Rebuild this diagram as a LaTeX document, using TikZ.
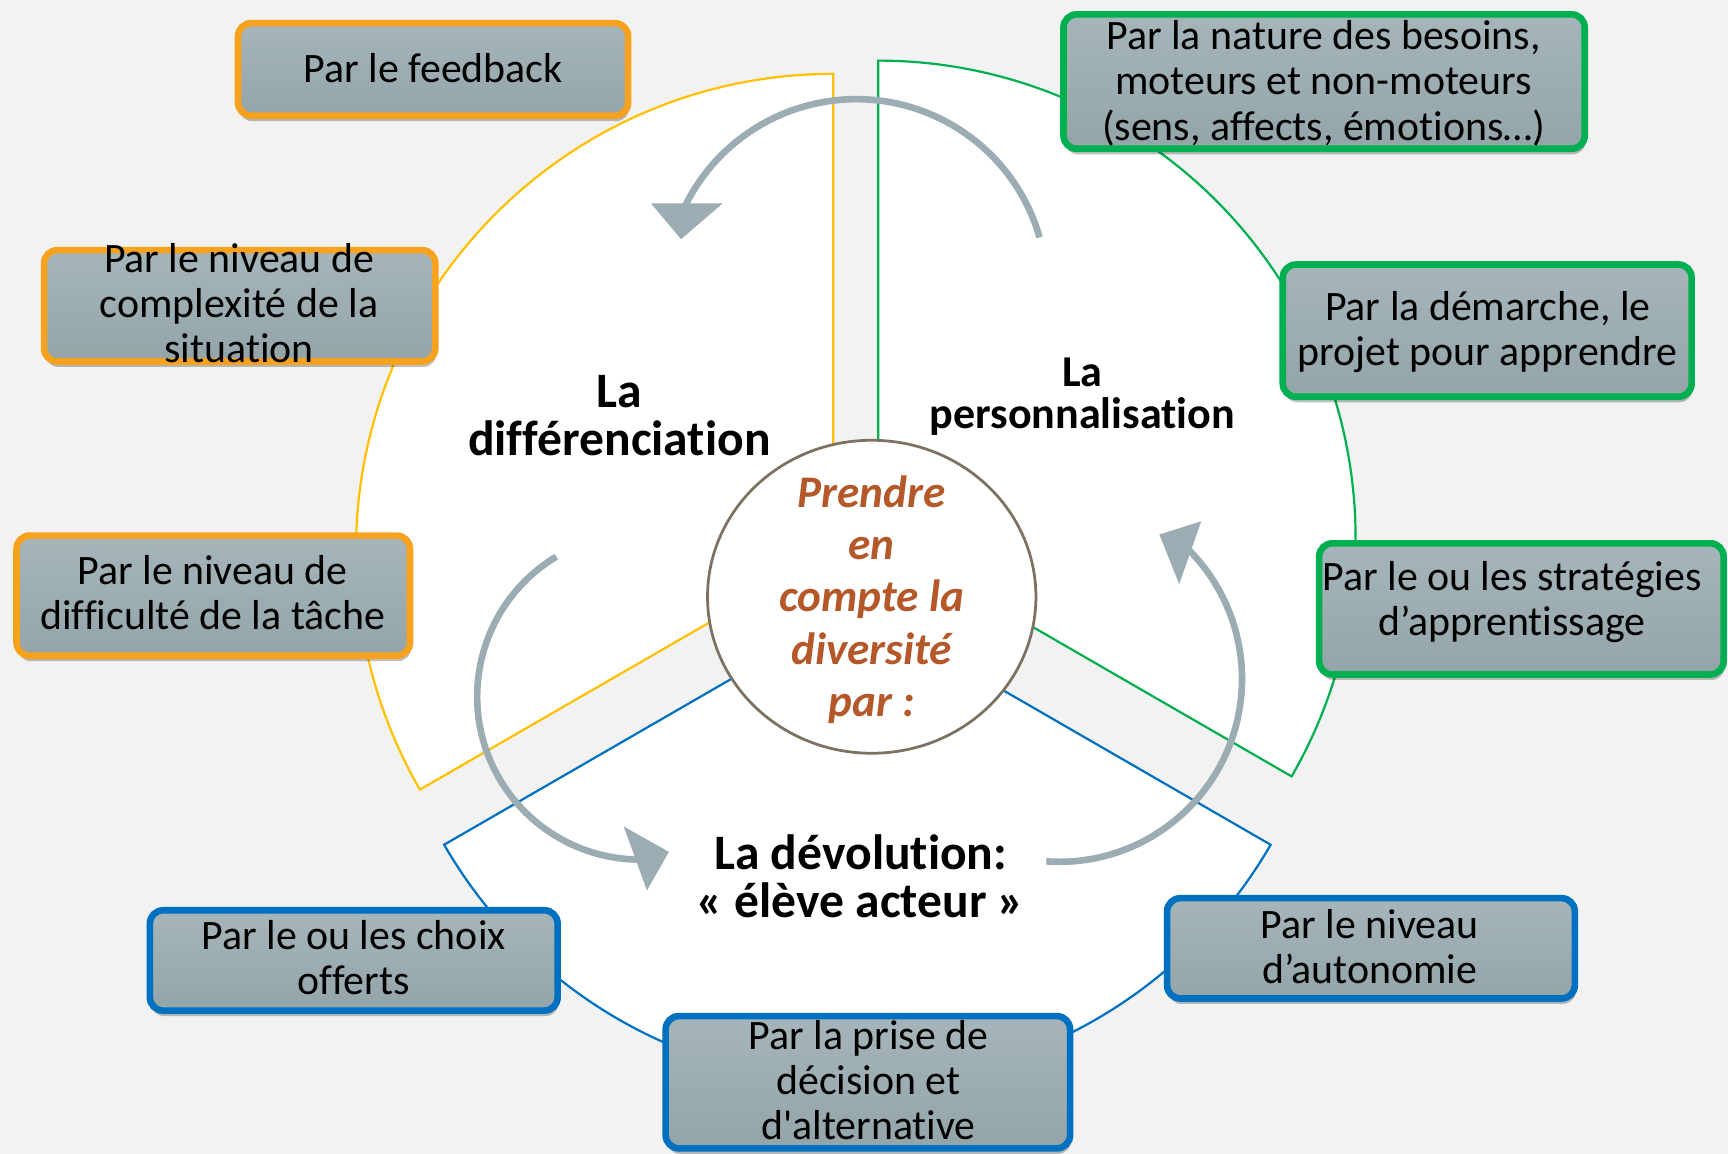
\documentclass[tikz,border=0pt]{standalone}
\usepackage{fontspec}
\setmainfont{Carlito}[Ligatures={TeX,NoCommon}]
\usetikzlibrary{arrows.meta,shapes.geometric,shadows}
\definecolor{bgcol}{HTML}{F2F2F2}
\definecolor{boxtop}{HTML}{A5B5BA}
\definecolor{boxbot}{HTML}{94A5AA}
\definecolor{ocol}{HTML}{F6A21E}
\definecolor{gcol}{HTML}{00B050}
\definecolor{bcol}{HTML}{0070C0}
\definecolor{ycol}{HTML}{FFC000}
\definecolor{circcol}{HTML}{7D7262}
\definecolor{arrowcol}{HTML}{9BACB2}
\definecolor{ctxtcol}{HTML}{B4582A}
\begin{document}
\begin{tikzpicture}[x=1pt,y=-1pt,
  wedge/.style={draw=#1, line width=2pt, fill=white, line join=miter},
  box/.style={draw=#1, line width=6pt, rounded corners=12pt, top color=boxtop, bottom color=boxbot, inner sep=0pt,
    drop shadow={shadow xshift=1pt, shadow yshift=-5pt, opacity=0.25, fill=black}},
  btxt/.style={align=center, inner sep=0pt, font=\fontsize{38}{41}\selectfont},
  ttl/.style={align=center, inner sep=0pt, font=\bfseries\fontsize{44}{44}\selectfont},
  shaft/.style={draw=arrowcol, line width=6pt},
  head/.style={fill=arrowcol, line join=miter}]
\fill[bgcol] (0,0) rectangle (1568,1047);
\useasboundingbox (0,0) rectangle (1568,1047);

% sectors
\draw[wedge=ycol] (756,500) -- ++(-90:433) arc[start angle=-90, end angle=-210, radius=433] -- cycle;
\draw[wedge=gcol] (797,488) -- ++(30:433) arc[start angle=30, end angle=-90, radius=433] -- cycle;
\draw[wedge=bcol] (778,550) -- ++(150:433) arc[start angle=150, end angle=30, radius=433] -- cycle;

% centre
\node[ellipse, draw=circcol, line width=2.5pt, fill=white, minimum width=298pt, minimum height=284pt, inner sep=0pt] (circ) at (791,541.5) {};
\node[align=center, inner sep=0pt, text=ctxtcol, font=\bfseries\itshape\fontsize{41}{47.5}\selectfont] (ctext) at (791,544) {Prendre\\en\\compte la\\diversité\\par :};

% titles
\node[ttl, font=\bfseries\fontsize{45}{43.5}\selectfont] (tdiff) at (562,377) {La\\différenciation};
\node[ttl, font=\bfseries\fontsize{40}{38}\selectfont] (tpers) at (982,360) {La\\personnalisation};
\node[ttl, font=\bfseries\fontsize{45}{44}\selectfont] (tdevo) at (781,795) {La dévolution:\\« élève acteur »};

% circular arrows
\coordinate (ca) at (777,263);
\coordinate (cl) at (581,632);
\coordinate (cr) at (961,616);
\draw[shaft] ([shift={(-16:173)}]ca) arc[start angle=-16, end angle=-153.5, radius=173];
\fill[head] (590.7,184.5) -- (655.8,184.5) -- (618,217) -- cycle;
\draw[shaft] ([shift={(-121:148)}]cl) arc[start angle=-121, end angle=-269, radius=148];
\fill[head] (566,750) -- (607,773) -- (587,808) -- cycle;
\draw[shaft] ([shift={(-266:166)}]cr) arc[start angle=-266, end angle=-404.5, radius=166];
\fill[head] (1090,473) -- (1070,530) -- (1052,485) -- cycle;

% boxes
\node[box=ocol, minimum width=354pt, minimum height=84pt] (b1) at (393,63) {};
\node[box=ocol, minimum width=355pt, minimum height=101pt] (b2) at (217.5,277.5) {};
\node[box=ocol, minimum width=357pt, minimum height=109pt] (b3) at (193.5,540.5) {};
\node[box=gcol, minimum width=473pt, minimum height=122pt] (b4) at (1201.5,74) {};
\node[box=gcol, minimum width=371pt, minimum height=120pt] (b5) at (1349.5,300) {};
\node[box=gcol, minimum width=367pt, minimum height=119pt] (b6) at (1380.5,552.5) {};
\node[box=bcol, minimum width=370pt, minimum height=91pt] (b7) at (321,871.5) {};
\node[box=bcol, minimum width=367pt, minimum height=120pt] (b8) at (787.5,982) {};
\node[box=bcol, minimum width=370pt, minimum height=91pt] (b9) at (1244,860.5) {};

% box texts
\node[btxt] (t1) at (393,62) {Par le feedback};
\node[btxt] (t2) at (217,275) {Par le niveau de\\complexité de la\\situation};
\node[btxt] (t3) at (193,538) {Par le niveau de\\difficulté de la tâche};
\node[btxt] (t4) at (1201,75.5) {Par la nature des besoins,\\moteurs et non-moteurs\\(sens, affects, émotions…)};
\node[btxt] (t5) at (1350,301) {Par la démarche, le\\projet pour apprendre};
\node[btxt] (t6) at (1372,546) {Par le ou les stratégies\\d’apprentissage};
\node[btxt] (t7) at (321,869) {Par le ou les choix\\offerts};
\node[btxt] (t8) at (788,980) {Par la prise de\\décision et\\d\textquotesingle alternative};
\node[btxt] (t9) at (1243,859) {Par le niveau\\d’autonomie};
\end{tikzpicture}
\end{document}
